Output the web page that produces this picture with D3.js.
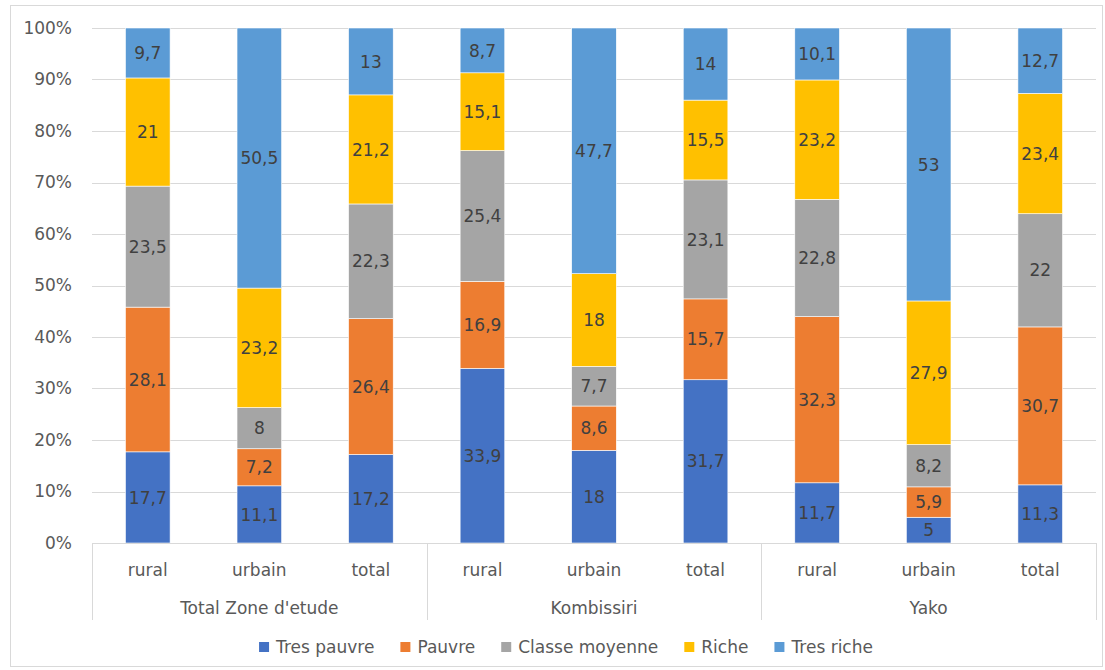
<!DOCTYPE html>
<html>
<head>
<meta charset="utf-8">
<script src="https://cdn.jsdelivr.net/npm/d3@7"></script>
<style>
  html, body { margin: 0; padding: 0; background: #fff; }
  svg text { font-family: "DejaVu Sans", Verdana, sans-serif; }
</style>
</head>
<body>
<svg id="chart" width="1105" height="670"></svg>
<script>
// Groups and sub-categories along the x axis
const groups = ["Total Zone d'etude", "Kombissiri", "Yako"];
const places = ["rural", "urbain", "total"];

// Wealth classes, bottom to top of each stack
const classes = ["Tres pauvre", "Pauvre", "Classe moyenne", "Riche", "Tres riche"];
const classColors = ["#4472C4", "#ED7D31", "#A5A5A5", "#FFC000", "#5B9BD5"];

// Shares (%) per class, one entry per column (group x place)
const tresPauvre    = [17.7, 11.1, 17.2, 33.9, 18,   31.7, 11.7, 5,    11.3];
const pauvre        = [28.1, 7.2,  26.4, 16.9, 8.6,  15.7, 32.3, 5.9,  30.7];
const classeMoyenne = [23.5, 8,    22.3, 25.4, 7.7,  23.1, 22.8, 8.2,  22];
const riche         = [21,   23.2, 21.2, 15.1, 18,   15.5, 23.2, 27.9, 23.4];
const tresRiche     = [9.7,  50.5, 13,   8.7,  47.7, 14,   10.1, 53,   12.7];

const yTicks = [0, 0.1, 0.2, 0.3, 0.4, 0.5, 0.6, 0.7, 0.8, 0.9, 1];

const series = [tresPauvre, pauvre, classeMoyenne, riche, tresRiche];

// One row per column, with the five class values
const columns = [];
groups.forEach((g, gi) => {
  places.forEach((p, pi) => {
    const idx = gi * places.length + pi;
    const row = { key: g + "|" + p, group: g, place: p };
    classes.forEach((c, ci) => { row[c] = series[ci][idx]; });
    columns.push(row);
  });
});

const svg = d3.select("#chart");
const W = 1105, H = 670;
const plot = { left: 92, right: 1096, top: 28, bottom: 543 };

// Chart frame
svg.append("rect")
  .attr("x", 10.5).attr("y", 5.5)
  .attr("width", 1092).attr("height", 661)
  .attr("fill", "#fff").attr("stroke", "#D9D9D9").attr("stroke-width", 1);

const x = d3.scaleBand()
  .domain(columns.map(d => d.key))
  .range([plot.left, plot.right])
  .paddingInner(0.6).paddingOuter(0.3);

const y = d3.scaleLinear().domain([0, 1]).range([plot.bottom, plot.top]);

// Horizontal gridlines
svg.append("g")
  .selectAll("line")
  .data(yTicks)
  .join("line")
  .attr("x1", plot.left).attr("x2", plot.right)
  .attr("y1", d => Math.round(y(d)) + 0.5).attr("y2", d => Math.round(y(d)) + 0.5)
  .attr("stroke", "#D9D9D9").attr("stroke-width", 1);

// Y axis tick labels
const yAxis = d3.axisLeft(y)
  .tickValues(yTicks)
  .tickFormat(d3.format(".0%"))
  .tickSize(0).tickPadding(20);
const gy = svg.append("g").attr("transform", `translate(${plot.left},0)`).call(yAxis);
gy.select(".domain").remove();
gy.selectAll("text")
  .attr("font-size", 17).attr("fill", "#595959")
  .style("font-family", "DejaVu Sans, Verdana, sans-serif");

// Normalised stacks (100% stacked)
const stack = d3.stack().keys(classes).offset(d3.stackOffsetExpand);
const stacked = stack(columns);

const layers = svg.append("g")
  .selectAll("g")
  .data(stacked)
  .join("g")
  .attr("fill", (d, i) => classColors[i]);

layers.selectAll("rect")
  .data(d => d)
  .join("rect")
  .attr("x", d => x(d.data.key))
  .attr("width", x.bandwidth())
  .attr("y", d => y(d[1]))
  .attr("height", d => y(d[0]) - y(d[1]))
  .attr("stroke", "#fff").attr("stroke-width", 0.6);

// Value labels centred in each segment
const labels = svg.append("g");
stacked.forEach((layer, li) => {
  labels.selectAll(null)
    .data(layer)
    .join("text")
    .attr("x", d => x(d.data.key) + x.bandwidth() / 2)
    .attr("y", d => (y(d[0]) + y(d[1])) / 2)
    .attr("dy", "0.36em")
    .attr("text-anchor", "middle")
    .attr("font-size", 17)
    .attr("fill", "#404040")
    .text(d => String(d.data[classes[li]]).replace(".", ","));
});

// Category axis: baseline, sub-category labels, group labels and separators
svg.append("line")
  .attr("x1", plot.left).attr("x2", plot.right)
  .attr("y1", plot.bottom + 0.5).attr("y2", plot.bottom + 0.5)
  .attr("stroke", "#D9D9D9");

const groupStep = (plot.right - plot.left) / groups.length;
const gx = d3.scaleBand().domain(groups).range([plot.left, plot.right]);
const sepX = groups.map(g => gx(g)).concat([plot.right]);

svg.append("g")
  .selectAll("line")
  .data(sepX)
  .join("line")
  .attr("x1", d => Math.round(d) + 0.5).attr("x2", d => Math.round(d) + 0.5)
  .attr("y1", plot.bottom).attr("y2", 620)
  .attr("stroke", "#D9D9D9");

svg.append("g")
  .selectAll("text")
  .data(columns)
  .join("text")
  .attr("x", d => x(d.key) + x.bandwidth() / 2)
  .attr("y", 576)
  .attr("text-anchor", "middle")
  .attr("font-size", 17).attr("fill", "#595959")
  .text(d => d.place);

svg.append("g")
  .selectAll("text")
  .data(groups)
  .join("text")
  .attr("x", d => gx(d) + gx.bandwidth() / 2)
  .attr("y", 614)
  .attr("text-anchor", "middle")
  .attr("font-size", 17).attr("fill", "#595959")
  .text(d => d);

// Legend, centred below the axis
const legend = svg.append("g");
const items = legend.selectAll("g")
  .data(classes)
  .join("g");
items.append("rect")
  .attr("width", 10).attr("height", 10)
  .attr("y", 642)
  .attr("fill", (d, i) => classColors[i]);
items.append("text")
  .attr("x", 17).attr("y", 653)
  .attr("font-size", 17).attr("fill", "#595959")
  .text(d => d);

let cursor = 0;
const offsets = [];
items.each(function () {
  offsets.push(cursor);
  const w = d3.select(this).select("text").node().getComputedTextLength();
  cursor += 17 + w + 26;
});
const totalW = cursor - 26;
const startX = 566 - totalW / 2;
items.attr("transform", (d, i) => `translate(${startX + offsets[i]},0)`);
</script>
</body>
</html>
